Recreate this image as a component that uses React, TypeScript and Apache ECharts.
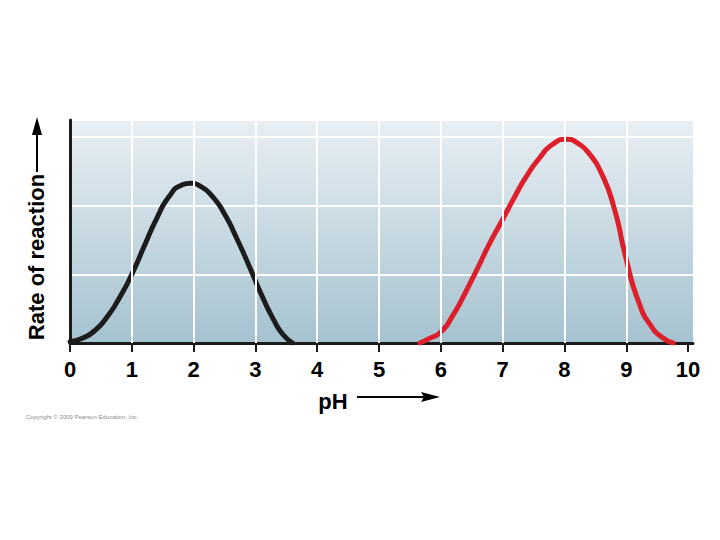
import React, { useEffect, useRef } from "react";
import * as echarts from "echarts";

// pH values and relative reaction rates
const pepsinPH = [0, 0.2, 0.4, 0.6, 0.8, 1.0, 1.2, 1.4, 1.6, 1.8, 1.95, 2.1, 2.3, 2.5, 2.7, 2.9, 3.1, 3.3, 3.45, 3.6];
const pepsinRate = [0.02, 0.07, 0.18, 0.38, 0.66, 1.0, 1.41, 1.81, 2.13, 2.3, 2.33, 2.29, 2.14, 1.88, 1.52, 1.12, 0.7, 0.33, 0.12, 0.0];

const trypsinPH = [5.66, 5.8, 6.0, 6.2, 6.4, 6.6, 6.8, 7.0, 7.2, 7.4, 7.6, 7.8, 8.04, 8.2, 8.4, 8.6, 8.8, 9.0, 9.2, 9.4, 9.6, 9.76];
const trypsinRate = [0.0, 0.06, 0.16, 0.41, 0.74, 1.1, 1.47, 1.8, 2.14, 2.45, 2.7, 2.89, 2.97, 2.92, 2.76, 2.47, 1.98, 1.22, 0.6, 0.25, 0.07, 0.0];

const xTicks = [0, 1, 2, 3, 4, 5, 6, 7, 8, 9, 10];
const xGridLines = [1, 2, 3, 4, 5, 6, 7, 8, 9];

const yTitle = "Rate of reaction";
const xTitle = "pH";
const copyright = "Copyright \u00a9 2009 Pearson Education, Inc.";

const pairs = (xs: number[], ys: number[]) => xs.map((x, i) => [x, ys[i]]);

export default function App() {
  const ref = useRef<HTMLDivElement>(null);
  useEffect(() => {
    if (!ref.current) return;
    const chart = echarts.init(ref.current, null, { renderer: "svg" });
    const font = "Liberation Sans, Arial, Helvetica, sans-serif";
    chart.setOption({
      animation: false,
      backgroundColor: "#ffffff",
      grid: {
        left: 70,
        right: 27,
        top: 120,
        bottom: 197,
        show: true,
        borderWidth: 0,
        backgroundColor: new echarts.graphic.LinearGradient(0, 0, 0, 1, [
          { offset: 0, color: "#e8eff4" },
          { offset: 0.5, color: "#c8d9e2" },
          { offset: 1, color: "#a5c2d0" },
        ]),
      },
      xAxis: {
        type: "value",
        min: 0,
        max: 10.08,
        interval: 1,
        axisLine: { show: true, onZero: false, lineStyle: { color: "#1a1a1a", width: 3 } },
        axisTick: {
          show: true,
          inside: false,
          length: 9,
          customValues: xTicks,
          lineStyle: { color: "#1a1a1a", width: 2 },
        },
        axisLabel: {
          customValues: xTicks,
          color: "#000",
          fontSize: 22,
          fontWeight: "bold",
          fontFamily: font,
          margin: 15,
        },
        splitLine: { show: false },
      },
      yAxis: {
        type: "value",
        min: 0,
        max: 3.25,
        interval: 1,
        axisLine: { show: true, lineStyle: { color: "#1a1a1a", width: 3 } },
        axisTick: { show: false },
        axisLabel: { show: false },
        splitLine: { show: true, lineStyle: { color: "#ffffff", width: 2 } },
      },
      series: [
        {
          type: "line",
          data: [],
          z: 1,
          markLine: {
            silent: true,
            symbol: "none",
            label: { show: false },
            lineStyle: { color: "#ffffff", width: 2, type: "solid" },
            data: xGridLines.map((v) => ({ xAxis: v })),
          },
        },
        {
          type: "line",
          data: pairs(pepsinPH, pepsinRate),
          smooth: 0.6,
          symbol: "none",
          lineStyle: { color: "#1c1c1c", width: 5, join: "round", cap: "round" },
          z: 3,
        },
        {
          type: "line",
          data: pairs(trypsinPH, trypsinRate),
          smooth: 0.6,
          symbol: "none",
          lineStyle: { color: "#dc1f2a", width: 5, join: "round", cap: "round" },
          z: 3,
        },
      ],
      graphic: [
        {
          type: "text",
          x: 36,
          y: 257,
          rotation: Math.PI / 2,
          style: {
            text: yTitle,
            fill: "#000",
            font: `bold 22px ${font}`,
            textAlign: "center",
            textVerticalAlign: "middle",
          },
        },
        {
          type: "line",
          shape: { x1: 37, y1: 172, x2: 37, y2: 132 },
          style: { stroke: "#000", lineWidth: 2 },
        },
        {
          type: "polygon",
          shape: { points: [[37, 117], [32, 135], [42, 135]] },
          style: { fill: "#000" },
        },
        {
          type: "text",
          x: 333,
          y: 401,
          style: {
            text: xTitle,
            fill: "#000",
            font: `bold 22px ${font}`,
            textAlign: "center",
            textVerticalAlign: "middle",
          },
        },
        {
          type: "line",
          shape: { x1: 357, y1: 397, x2: 426, y2: 397 },
          style: { stroke: "#000", lineWidth: 2 },
        },
        {
          type: "polygon",
          shape: { points: [[440, 397], [421, 392], [424, 397], [421, 402]] },
          style: { fill: "#000" },
        },
        {
          type: "text",
          x: 26,
          y: 417,
          style: {
            text: copyright,
            fill: "#8a8a8a",
            font: `6px ${font}`,
            textAlign: "left",
            textVerticalAlign: "middle",
          },
        },
      ],
    });
    return () => chart.dispose();
  }, []);
  return <div ref={ref} style={{ width: 720, height: 540, position: "absolute", left: 0, top: 0 }} />;
}
